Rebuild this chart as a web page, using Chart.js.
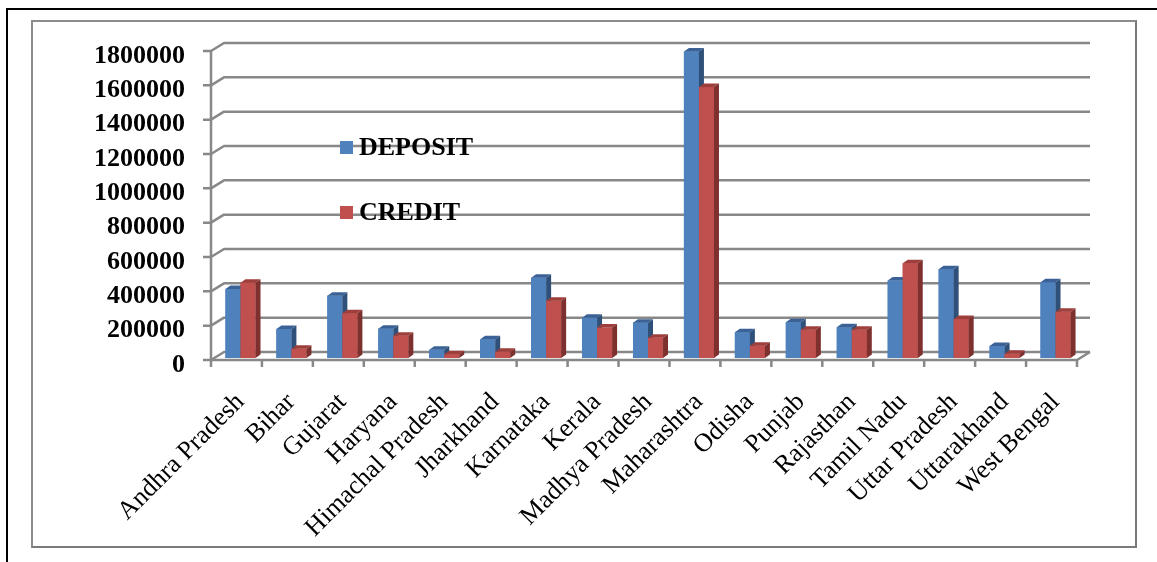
<!DOCTYPE html>
<html>
<head>
<meta charset="utf-8">
<script src="https://cdn.jsdelivr.net/npm/chart.js@4.4.1/dist/chart.umd.min.js"></script>
<style>
    body { margin: 0; background: #fff; }
    #wrap { position: relative; width: 1157px; height: 562px; overflow: hidden; background: #fff; }
    #outer { position: absolute; left: 6px; top: 8px; right: -10px; bottom: -10px; border-left: 2px solid #000; border-top: 2px solid #000; }
    #inner { position: absolute; left: 31px; top: 20px; width: 1102px; height: 524px; border: 2px solid #8c8c8c; border-right-color: #7a7a7a; border-bottom-color: #7a7a7a; }
    #chart { position: absolute; left: 0; top: 0; }
    .lg { position: absolute; display: flex; align-items: center; height: 26px;
          font: bold 26px "Liberation Serif", "Times New Roman", serif; color: #000; }
    .lg .sw { width: 13px; height: 13px; margin-right: 6px; }
</style>
</head>
<body>
<div id="wrap">
    <div id="outer"></div>
    <div id="inner"></div>
    <canvas id="chart" width="1157" height="562"></canvas>
    <div id="legend"></div>
</div>
<script>
const states = ['Andhra Pradesh', 'Bihar', 'Gujarat', 'Haryana', 'Himachal Pradesh', 'Jharkhand',
    'Karnataka', 'Kerala', 'Madhya Pradesh', 'Maharashtra', 'Odisha', 'Punjab', 'Rajasthan',
    'Tamil Nadu', 'Uttar Pradesh', 'Uttarakhand', 'West Bengal'];
const deposit = [402000, 169000, 363000, 171000, 48000, 109000, 468000, 235000, 206000,
    1786000, 150000, 208000, 179000, 451000, 517000, 70000, 441000];
const credit = [439000, 54000, 261000, 130000, 22000, 37000, 334000, 177000, 118000,
    1578000, 72000, 165000, 165000, 552000, 227000, 25000, 270000];
const yTicks = [0, 200000, 400000, 600000, 800000, 1000000, 1200000, 1400000, 1600000, 1800000];

// front / top / side colours of each series
const blue = { front: '#4F81BD', top: '#3B6296', side: '#2F5079' };
const red = { front: '#C0504D', top: '#9F3F3C', side: '#7E302E' };
const gridColor = '#888888';

// 3d offsets: bar depth, back wall and front edge relative to the bar plane
const barDx = 5, barDy = -3.5;
const backDx = 9, backDy = -6;
const frontDx = -4, frontDy = 2;

const depth3d = {
    id: 'depth3d',
    beforeDatasetsDraw(chart) {
        const ctx = chart.ctx;
        const xs = chart.scales.x;
        const ys = chart.scales.y;
        const area = chart.chartArea;
        const base = ys.getPixelForValue(0);
        const left = area.left + frontDx;
        ctx.save();
        ctx.strokeStyle = gridColor;
        ctx.lineWidth = 2.5;
        ctx.lineJoin = 'round';

        // back wall lines, left wall diagonals and y ticks
        yTicks.forEach(v => {
            const y = ys.getPixelForValue(v);
            ctx.beginPath();
            ctx.moveTo(left - 8, y + frontDy);
            ctx.lineTo(left, y + frontDy);
            ctx.lineTo(area.left + backDx, y + backDy);
            ctx.lineTo(area.right + backDx, y + backDy);
            ctx.stroke();
        });

        // front left axis
        ctx.beginPath();
        ctx.moveTo(left, ys.getPixelForValue(yTicks[yTicks.length - 1]) + frontDy);
        ctx.lineTo(left, base + frontDy);
        ctx.stroke();

        // floor front edge and right side
        ctx.beginPath();
        ctx.moveTo(left, base + frontDy);
        ctx.lineTo(area.right + frontDx, base + frontDy);
        ctx.lineTo(area.right + backDx, base + backDy);
        ctx.stroke();

        // category ticks
        const step = area.width / states.length;
        ctx.beginPath();
        for (let i = 0; i <= states.length; i++) {
            const x = xs.getPixelForValue(0) - step / 2 + i * step + frontDx;
            ctx.moveTo(x, base + frontDy);
            ctx.lineTo(x, base + frontDy + 7);
        }
        ctx.stroke();
        ctx.restore();
    },
    afterDatasetsDraw(chart) {
        const ctx = chart.ctx;
        const styles = [blue, red];
        ctx.save();
        for (let i = 0; i < states.length; i++) {
            chart.data.datasets.forEach((ds, d) => {
                const bar = chart.getDatasetMeta(d).data[i];
                const x0 = bar.x - bar.width / 2;
                const x1 = bar.x + bar.width / 2;
                const top = bar.y;
                const bottom = bar.base;
                const c = styles[d];

                ctx.fillStyle = c.front;
                ctx.fillRect(x0, top, x1 - x0, bottom - top);

                ctx.fillStyle = c.top;
                ctx.beginPath();
                ctx.moveTo(x0, top);
                ctx.lineTo(x1, top);
                ctx.lineTo(x1 + barDx, top + barDy);
                ctx.lineTo(x0 + barDx, top + barDy);
                ctx.closePath();
                ctx.fill();

                ctx.fillStyle = c.side;
                ctx.beginPath();
                ctx.moveTo(x1, top);
                ctx.lineTo(x1 + barDx, top + barDy);
                ctx.lineTo(x1 + barDx, bottom + barDy);
                ctx.lineTo(x1, bottom);
                ctx.closePath();
                ctx.fill();
            });
        }
        ctx.restore();
    }
};

const chart = new Chart(document.getElementById('chart'), {
    type: 'bar',
    data: {
        labels: states,
        datasets: [
            { label: 'DEPOSIT', data: deposit, backgroundColor: blue.front },
            { label: 'CREDIT', data: credit, backgroundColor: red.front }
        ]
    },
    options: {
        responsive: false,
        animation: false,
        devicePixelRatio: 1,
        categoryPercentage: 0.59,
        barPercentage: 1.0,
        layout: { padding: { top: 49, right: 76, left: 0, bottom: 0 } },
        plugins: { legend: { display: false }, tooltip: { enabled: false } },
        scales: {
            x: {
                grid: { display: false },
                border: { display: false },
                ticks: {
                    autoSkip: false,
                    minRotation: 45,
                    maxRotation: 45,
                    padding: 21,
                    color: '#000',
                    font: { family: 'Liberation Serif', size: 26 }
                },
                afterFit: s => { s.height = 562 - 358; }
            },
            y: {
                min: 0,
                max: 1800000,
                grid: { display: false },
                border: { display: false },
                ticks: {
                    stepSize: 200000,
                    padding: 22,
                    labelOffset: 7,
                    color: '#000',
                    font: { family: 'Liberation Serif', size: 26, weight: 'bold' },
                    callback: v => String(v)
                },
                afterFit: s => { s.width = 215; }
            }
        }
    },
    plugins: [depth3d]
});

// legend, placed inside the plot like the original
const legendTops = [134, 199];
const legendBox = document.getElementById('legend');
chart.data.datasets.forEach((ds, d) => {
    const item = document.createElement('div');
    item.className = 'lg';
    item.style.left = '340px';
    item.style.top = legendTops[d] + 'px';
    const sw = document.createElement('span');
    sw.className = 'sw';
    sw.style.background = ds.backgroundColor;
    const txt = document.createElement('span');
    txt.textContent = ds.label;
    item.appendChild(sw);
    item.appendChild(txt);
    legendBox.appendChild(item);
});
</script>
</body>
</html>
